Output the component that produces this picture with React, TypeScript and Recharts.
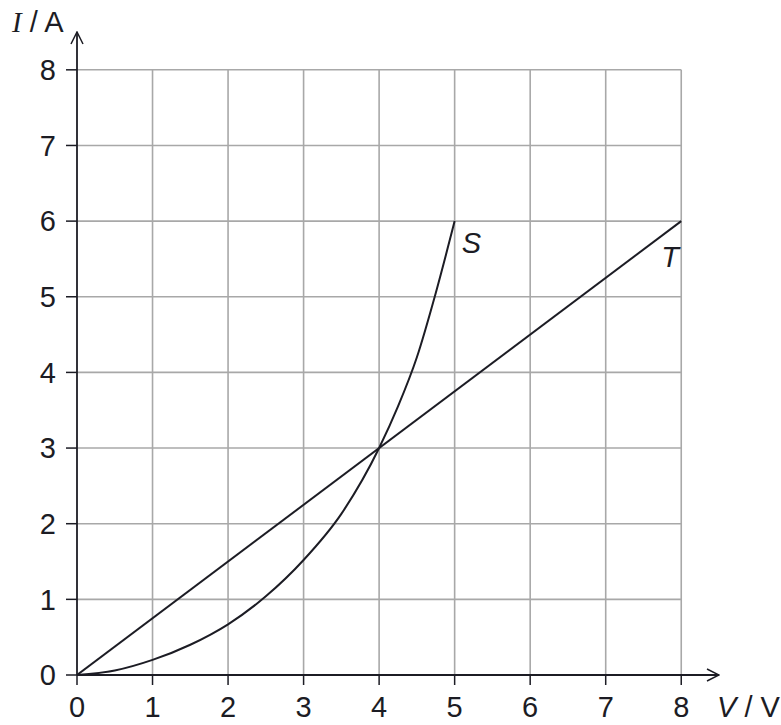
import { LineChart, Line, XAxis, YAxis, ReferenceLine } from "recharts";

// curve S: filament-like
const sVoltage = [0, 0.5, 1, 1.5, 2, 2.5, 3, 3.5, 4, 4.25, 4.5, 4.75, 5];
const sCurrent = [0, 0.06, 0.2, 0.4, 0.67, 1.04, 1.52, 2.13, 3, 3.55, 4.2, 5.05, 6];

// line T: ohmic conductor
const tVoltage = [0, 8];
const tCurrent = [0, 6];

const ticks = [0, 1, 2, 3, 4, 5, 6, 7, 8];
const gridValues = [1, 2, 3, 4, 5, 6, 7, 8];

const sData = sVoltage.map((v, i) => ({ v, i: sCurrent[i] }));
const tData = tVoltage.map((v, i) => ({ v, i: tCurrent[i] }));

const sans = '"Liberation Sans", Arial, sans-serif';
const ink = "#1c1c24";
const gridColor = "#a8a8a8";
const fontSize = 29;

function curveLabel(name: string, lastIndex: number, dx: number, dy: number) {
  return (props: any) => {
    if (props.index !== lastIndex) return null;
    return (
      <text x={props.x + dx} y={props.y + dy} fontFamily={sans} fontStyle="italic" fontSize={fontSize} fill={ink}>
        {name}
      </text>
    );
  };
}

export default function App() {
  return (
    <div style={{ position: "absolute", left: 0, top: 0, width: 781, height: 725, background: "#fff" }}>
      <svg width={0} height={0} style={{ position: "absolute" }}>
        <defs>
          <marker
            id="axisArrow"
            viewBox="0 0 14 14"
            refX={13}
            refY={7}
            markerWidth={14}
            markerHeight={14}
            markerUnits="userSpaceOnUse"
            orient="auto-start-reverse"
          >
            <path d="M1,1 L13,7 L1,13" fill="none" stroke={ink} strokeWidth={1.5} />
          </marker>
        </defs>
      </svg>
      <LineChart width={781} height={725} margin={{ top: 32, right: 62, left: 0, bottom: 0 }}>
        <XAxis
          type="number"
          dataKey="v"
          domain={[0, 8.5]}
          ticks={ticks}
          allowDataOverflow
          height={50}
          tickSize={10}
          tickMargin={11}
          axisLine={{ stroke: ink, strokeWidth: 1.8, markerEnd: "url(#axisArrow)" }}
          tickLine={{ stroke: ink, strokeWidth: 1.5 }}
          tick={{ fill: ink, fontSize, fontFamily: sans }}
          label={{
            content: () => (
              <text x={717} y={717} fontFamily={sans} fontSize={fontSize} fill={ink}>
                <tspan fontStyle="italic">V</tspan>
                <tspan> / V</tspan>
              </text>
            ),
          }}
        />
        <YAxis
          type="number"
          dataKey="i"
          domain={[0, 8.5]}
          ticks={ticks}
          allowDataOverflow
          width={77}
          tickSize={11}
          tickMargin={10}
          axisLine={{ stroke: ink, strokeWidth: 1.8, markerStart: "url(#axisArrow)" }}
          tickLine={{ stroke: ink, strokeWidth: 1.5 }}
          tick={{ fill: ink, fontSize, fontFamily: sans }}
          label={{
            content: () => (
              <text x={12} y={32} fontSize={fontSize} fill={ink}>
                <tspan fontFamily='"Liberation Serif", "Times New Roman", serif' fontStyle="italic">I</tspan>
                <tspan fontFamily={sans}> / A</tspan>
              </text>
            ),
          }}
        />
        {gridValues.map((g) => (
          <ReferenceLine
            key={"v" + g}
            segment={[{ x: g, y: 0 }, { x: g, y: 8 }]}
            stroke={gridColor}
            strokeWidth={1.6}
          />
        ))}
        {gridValues.map((g) => (
          <ReferenceLine
            key={"h" + g}
            segment={[{ x: 0, y: g }, { x: 8, y: g }]}
            stroke={gridColor}
            strokeWidth={1.6}
          />
        ))}
        <Line
          data={tData}
          dataKey="i"
          type="linear"
          stroke={ink}
          strokeWidth={2}
          dot={false}
          isAnimationActive={false}
          label={curveLabel("T", tData.length - 1, -20, 46)}
        />
        <Line
          data={sData}
          dataKey="i"
          type="monotone"
          stroke={ink}
          strokeWidth={2}
          dot={false}
          isAnimationActive={false}
          label={curveLabel("S", sData.length - 1, 7, 32)}
        />
      </LineChart>
    </div>
  );
}
